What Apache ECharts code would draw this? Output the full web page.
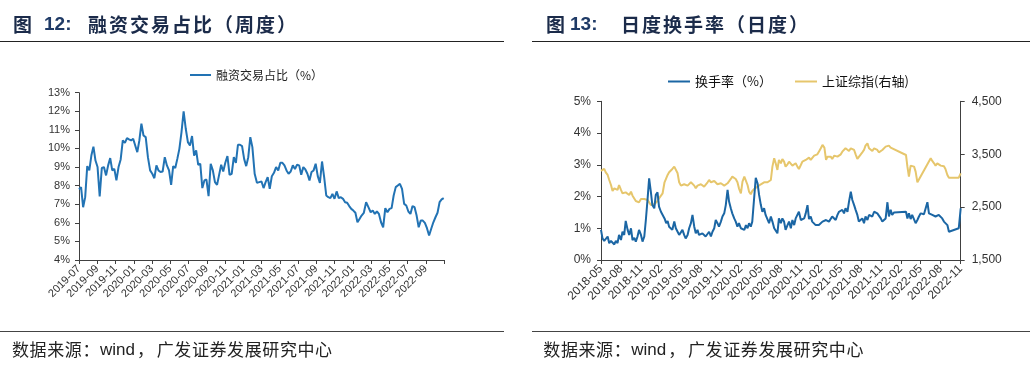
<!DOCTYPE html>
<html><head><meta charset="utf-8">
<script src="https://cdn.jsdelivr.net/npm/echarts@6/dist/echarts.min.js"></script>
<style>html,body{margin:0;padding:0;background:#fff}#c{width:1030px;height:371px}</style>
</head><body><div id="c"></div>
<script>
// ================= Figure 12: margin trading share (weekly) =================
const marginWeekStart = '2019-07-01';
const marginTickLabels = ['2019-07','2019-09','2019-11','2020-01','2020-03','2020-05','2020-07','2020-09','2020-11',
  '2021-01','2021-03','2021-05','2021-07','2021-09','2021-11','2022-01','2022-03','2022-05','2022-07','2022-09'];
const marginShare = [
  7.80, 7.92, 6.84, 7.38, 9.05, 8.82, 9.62, 10.10, 9.35,
  9.00, 7.42, 8.95, 9.00, 8.55, 9.09, 9.48, 8.82, 8.90, 8.28,
  9.00, 9.41, 10.43, 10.30, 10.56, 10.49, 10.43, 10.52, 10.16, 9.80,
  10.43, 11.33, 10.70, 10.61, 9.53, 8.82, 8.64, 8.40, 9.09, 8.82,
  8.73, 8.76, 9.53, 9.09, 8.82, 8.04, 9.05, 8.95, 9.44, 9.98,
  10.88, 12.00, 11.06, 10.34, 10.16, 10.67, 9.62, 9.90, 9.12, 9.18,
  7.87, 8.28, 8.33, 7.43, 9.18, 8.82, 8.19, 8.04, 8.58, 9.12,
  8.76, 9.23, 9.59, 8.58, 8.64, 9.53, 9.23, 10.20, 10.20, 10.13,
  9.44, 9.05, 9.53, 10.61, 10.07, 8.64, 8.15, 8.19,
  8.22, 7.87, 8.19, 8.46, 7.83, 8.51, 8.69, 9.00, 8.82, 9.23,
  9.23, 9.09, 8.82, 8.64, 8.76, 9.09, 8.90, 9.12, 9.09, 8.58,
  9.00, 8.87, 8.64, 8.28, 8.73, 8.82, 9.18, 8.51, 8.15, 9.30,
  8.46, 7.47, 7.38, 7.33, 7.56, 7.29, 7.69, 7.33, 7.38,
  7.29, 7.11, 7.08, 6.90, 6.75, 6.66, 6.54, 6.03, 6.21, 6.39,
  6.54, 7.11, 6.84, 6.57, 6.66, 6.48, 6.61, 6.48,
  6.03, 5.76, 6.79, 6.57, 6.75, 6.79, 7.47, 7.92, 8.01,
  8.10, 7.83, 7.02, 6.93, 6.61, 6.48, 6.90, 6.84, 6.39, 5.76,
  6.12, 6.12, 6.00, 5.71, 5.32, 5.68, 6.03, 6.30, 6.54, 7.11,
  7.26, 7.33
];

// ================= Figure 13: daily turnover vs SSE Composite =================
const turnoverStart = '2018-05';
const turnoverTickLabels = ['2018-05','2018-08','2018-11','2019-02','2019-05','2019-08','2019-11','2020-02','2020-05',
  '2020-08','2020-11','2021-02','2021-05','2021-08','2021-11','2022-02','2022-05','2022-08','2022-11'];
// sampled on the 1st, 8th, 16th and 23rd of each month (null = no data, line bridges the gap)
const turnoverRate = [
  0.95, 0.68, 0.60, 0.58, 0.74, 0.53, 0.60, 0.58, 0.49, 0.60,
  0.53, 0.79, 0.63, 0.89, 0.79, 1.23, 0.95, 0.79, 1.00, 0.63,
  0.70, 0.58, 0.74, 0.95, 0.79, 0.58, 0.74, 1.26, 1.94, 2.57,
  2.15, 1.73, 1.63, 2.05, 2.13, 1.68, 1.52, 1.58, 1.31, 1.16,
  1.23, 1.05, 1.00, 0.95, 1.21, 1.00, 0.89, 0.79, 0.74, 0.95,
  0.79, 0.68, 0.79, 1.00, 1.16, 1.42, 1.05, 0.84, 0.95, 0.79,
  0.74, 0.84, 0.79, 0.74, 0.79, 0.89, 0.74, 0.89, 1.00, 1.26,
  1.16, 1.05, 1.21, 1.37, 1.47, 1.73, 2.21, 1.84, 1.63, 1.47,
  1.31, 1.21, 1.05, 1.16, 1.00, 1.05, 0.95, 1.10, 1.00, 1.16,
  1.05, 1.21, 1.26, 2.59, 2.42, 2.05, 1.73, 1.52, 1.63, 1.42,
  1.47, 1.16, 1.37, 1.21, 1.00, 1.05, 0.84, 1.31,
  1.16, 1.31, 1.21, 0.95, 1.10, 1.21, 1.00, 1.26, 1.10, 1.31,
  1.26, 1.52, 1.26, 1.21, 1.31, 1.47, 1.73, 1.29, 1.37, 1.21,
  1.26, 1.10, 1.16, 1.10, 1.05, 1.21, 1.16, 1.26, 1.31, 1.21,
  1.26, 1.37, 1.31, 1.26, 1.42, 1.52, 1.47, 1.58, 1.47, 1.63,
  1.52, 1.84, 2.15, 1.89, 1.73, 1.58, 1.42, 1.21, 1.26, 1.31,
  1.16, 1.37, 1.26, 1.42, 1.47, 1.37, 1.52, 1.58, 1.47, 1.42,
  1.31, 1.21, 1.16, 1.31, 1.82, 1.37, 1.58, 1.42, 1.50, null,
  null, null, null, null, null, 1.52, 1.31, 1.47, 1.29, 1.42,
  1.47, 1.16, 1.26, 1.37, 1.47, 1.42, 1.44, 1.47, 1.82, 1.47,
  1.52, 1.42, 1.40, 1.37, 1.33, 1.42, 1.47, 1.31, 1.21, 1.26,
  1.10, 0.89, null, null, null, null, null, 1.00, 1.63
];
const sseIndex = [
  3183, 3202, 3221, 3158, 3108, 3013, 2918, 2805, 2855, 2887,
  2824, 2918, 2824, 2761, 2792, 2779, 2742, 2729, 2792, 2716,
  2679, 2616, 2634, 2590, 2653, 2616, 2653, 2616, 2634, 2590,
  2540, 2508, 2553, 2590, 2616, 2666, 2698, 2761, 2969, 3044,
  3108, 3158, 3183, 3221, 3265, 3284, 3139, 2969, 2906, 2887,
  2931, 2950, 2906, 2918, 2969, 2994, 2906, 2855, 2906, 2918,
  2931, 2950, 2887, 2918, 2969, 3013, 2969, 2950, 2994, 2981,
  2931, 2918, 2950, 2931, 2906, 2918, 2950, 2969, 3032, 3076,
  3108, 3032, 2969, 2855, 2761, 2981, 3076, 3057, 2918, 2792,
  2742, 2805, 2843, 2855, 2887, 2906, 2931, 2950, 2969, 2994,
  2969, 2981, 3013, 3265, 3422, 3328, 3202, 3391,
  3328, 3410, 3359, 3265, 3309, 3359, 3328, 3284, 3309, 3328,
  3265, 3221, 3296, 3359, 3372, 3391, 3410, 3435, 3391, 3359,
  3473, 3454, 3498, 3548, 3612, 3675, 3624, 3391, 3454, 3485,
  3454, 3410, 3473, 3498, 3454, 3473, 3498, 3548, 3580, 3612,
  3599, 3561, 3612, 3624, 3580, 3498, 3410, 3385, 3498, 3536,
  3580, 3662, 3706, 3612, 3599, 3561, 3612, 3624, 3580, 3536,
  3561, 3580, 3612, 3643, 3675, 3662, 3624, 3612, null, null,
  null, null, null, null, null, 3485, 3265, 3076, 3284, 3284,
  3265, 3170, 2969, null, null, null, null, null, null, null,
  3422, 3372, 3328, 3284, 3328, 3296, 3284, 3265, 3271, 3221,
  3108, 3057, null, null, null, null, null, 3057, 3139
];

// ---------- helpers ----------
function monthIndex(y, m, d, y0, m0) {
  const dim = new Date(Date.UTC(y, m, 0)).getUTCDate();
  return (y - y0) * 12 + (m - m0) + (d - 1) / dim;
}
const [my0, mm0, md0] = marginWeekStart.split('-').map(Number);
const marginData = marginShare.map((v, i) => {
  const dt = new Date(Date.UTC(my0, mm0 - 1, md0) + i * 7 * 86400000);
  return [monthIndex(dt.getUTCFullYear(), dt.getUTCMonth() + 1, dt.getUTCDate(), my0, mm0), v];
});
const [ty0, tm0] = turnoverStart.split('-').map(Number);
const sampleDays = [1, 8, 16, 23];
function turnoverX(i) {
  const mAbs = (tm0 - 1) + Math.floor(i / 4);
  const y = ty0 + Math.floor(mAbs / 12), m = mAbs % 12 + 1;
  return monthIndex(y, m, sampleDays[i % 4], ty0, tm0);
}
const turnoverData = turnoverRate.map((v, i) => [turnoverX(i), v]);
const sseData = sseIndex.map((v, i) => [turnoverX(i), v]);

const LAT = "'Liberation Sans', Arial, 'Noto Sans CJK SC', sans-serif";
const CJK = "'Noto Sans CJK SC', 'Liberation Sans', sans-serif";
const TITLE_FILL = '#1b2b4a';
function txt(s, x, y, font, fill) {
  return { type: 'text', x, y, silent: true,
    style: { text: s, font, fill, verticalAlign: 'middle', textVerticalAlign: 'middle' } };
}
function run(str, x0, adv, y, font, fill) {
  return Array.from(str).map((ch, i) => txt(ch, x0 + i * adv, y, font, fill));
}
function hline(x1, x2, y, stroke) {
  return { type: 'line', silent: true, shape: { x1, y1: y, x2, y2: y }, style: { stroke, lineWidth: 1 } };
}
const titleFont = "bold 19px " + CJK;
const numFont = "bold 19px " + LAT;
const srcFont = "17px " + CJK;
function source(x0) {
  return [].concat(
    run('数据来源：', x0, 17.6, 350, srcFont, '#222'),
    [txt('wind', x0 + 88, 350, "17px " + LAT, '#222')],
    [txt('，', x0 + 125, 350, srcFont, '#222')],
    run('广发证券发展研究中心', x0 + 144.7, 17.6, 350, srcFont, '#222')
  );
}
const graphics = [].concat(
  [txt('图', 13, 25, titleFont, TITLE_FILL), txt('12:', 44, 25, numFont, '#1f3a66')],
  run('融资交易占比（周度）', 88, 21, 25, titleFont, TITLE_FILL),
  [txt('图', 546, 25, titleFont, TITLE_FILL), txt('13:', 570, 25, numFont, '#1f3a66')],
  run('日度换手率（日度）', 621, 21, 25, titleFont, TITLE_FILL),
  [hline(0, 504, 41.5, '#222'), hline(532, 1030, 41.5, '#222'),
   hline(0, 504, 331.5, '#444'), hline(532, 1030, 331.5, '#444')],
  source(12), source(543.3)
);

const AX = '#404040';
const LBL = '#333';
function baseAxis(extra) {
  return Object.assign({
    axisLine: { show: true, onZero: false, lineStyle: { color: AX, width: 1 } },
    axisTick: { show: true, inside: false, length: 4, lineStyle: { color: AX } },
    splitLine: { show: false },
  }, extra);
}

const option = {
  animation: false,
  backgroundColor: '#fff',
  graphic: graphics,
  grid: [
    { left: 79, top: 92.7, width: 365, height: 167.3, containLabel: false, outerBoundsMode: 'none' },
    { left: 601, top: 101.3, width: 359.7, height: 158.7, containLabel: false, outerBoundsMode: 'none' }
  ],
  legend: [
    { data: [{ name: '融资交易占比（%）', icon: 'rect' }], left: 185, top: 64, itemWidth: 21, itemHeight: 2, itemGap: 10,
      textStyle: { fontFamily: CJK, fontSize: 12, color: '#222' } },
    { data: [{ name: '换手率（%）', icon: 'rect' }], left: 663, top: 70, itemWidth: 22, itemHeight: 2,
      textStyle: { fontFamily: CJK, fontSize: 13, color: '#111' } },
    { data: [{ name: '上证综指(右轴)', icon: 'rect' }], left: 790, top: 70, itemWidth: 22, itemHeight: 2,
      textStyle: { fontFamily: CJK, fontSize: 13, color: '#111' } }
  ],
  xAxis: [
    baseAxis({ type: 'value', gridIndex: 0, min: 0, max: 40, interval: 2,
      axisLabel: { rotate: 45, margin: 7, fontSize: 11, fontFamily: LAT, color: LBL, showMinLabel: true, showMaxLabel: true,
        formatter: v => { const k = Math.round(v / 2); return (Math.abs(v - 2 * k) < 1e-6 && k < marginTickLabels.length) ? marginTickLabels[k] : ''; } } }),
    baseAxis({ type: 'value', gridIndex: 1, min: 0, max: 54, interval: 3,
      axisLabel: { rotate: 45, margin: 7, fontSize: 12, fontFamily: LAT, color: LBL, showMinLabel: true, showMaxLabel: true,
        formatter: v => { const k = Math.round(v / 3); return (Math.abs(v - 3 * k) < 1e-6 && k < turnoverTickLabels.length) ? turnoverTickLabels[k] : ''; } } })
  ],
  yAxis: [
    baseAxis({ type: 'value', gridIndex: 0, min: 4, max: 13, interval: 1, position: 'left',
      axisLabel: { margin: 9, fontSize: 11, fontFamily: LAT, color: LBL, formatter: v => v + '%' } }),
    baseAxis({ type: 'value', gridIndex: 1, min: 0, max: 5, interval: 1, position: 'left',
      axisLabel: { margin: 10, fontSize: 12, fontFamily: LAT, color: LBL, formatter: v => v + '%' } }),
    baseAxis({ type: 'value', gridIndex: 1, min: 1500, max: 4500, interval: 1000, position: 'right',
      axisLabel: { margin: 11, fontSize: 12, fontFamily: LAT, color: LBL, formatter: v => v.toLocaleString('en-US') } })
  ],
  series: [
    { name: '融资交易占比（%）', type: 'line', xAxisIndex: 0, yAxisIndex: 0, data: marginData,
      showSymbol: false, symbol: 'none', lineStyle: { color: '#2273b4', width: 2 }, itemStyle: { color: '#2273b4' } },
    { name: '上证综指(右轴)', type: 'line', xAxisIndex: 1, yAxisIndex: 2, data: sseData, connectNulls: true,
      showSymbol: false, symbol: 'none', lineStyle: { color: '#e6c66c', width: 2 }, itemStyle: { color: '#e6c66c' }, z: 2 },
    { name: '换手率（%）', type: 'line', xAxisIndex: 1, yAxisIndex: 1, data: turnoverData, connectNulls: true,
      showSymbol: false, symbol: 'none', lineStyle: { color: '#1b66a4', width: 2 }, itemStyle: { color: '#1b66a4' }, z: 3 }
  ]
};
const chart = echarts.init(document.getElementById('c'), null, { renderer: 'canvas' });
chart.setOption(option);
</script>
</body></html>
